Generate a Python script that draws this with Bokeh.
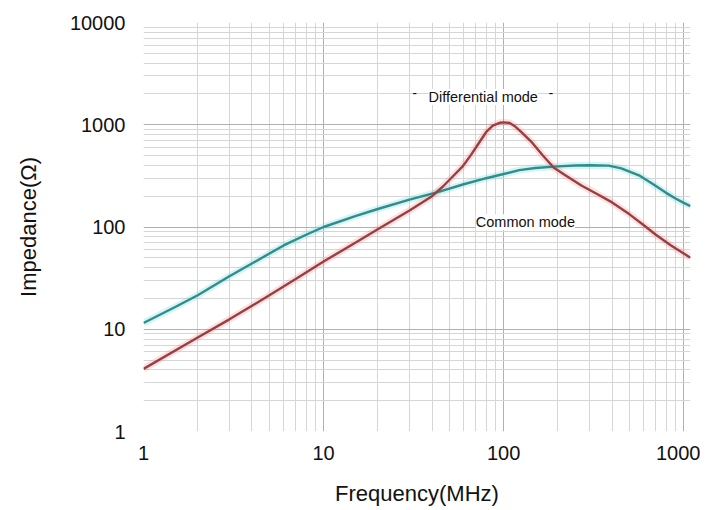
from bokeh.plotting import figure
from bokeh.models import Range1d, FixedTicker, ColumnDataSource
from bokeh.core.properties import value
from bokeh.embed import file_html
from bokeh.resources import INLINE

# ---- data ----
freq_diff = [1, 2, 3, 5, 7, 10, 15, 20, 30, 40, 46, 52, 59, 66, 73, 80, 87, 95, 100,
             108, 116, 125, 144, 165, 190, 220, 270, 330, 400, 500, 600, 700, 850, 1000, 1090]
imp_diff = [4.1, 8.3, 12.5, 21.5, 31, 46, 70, 95, 145, 200, 249, 310, 389, 510, 667, 850,
            980, 1045, 1055, 1040, 960, 850, 667, 500, 380, 320, 255, 210, 174, 133, 104,
            84, 66, 55, 50]

freq_common = [1, 1.5, 2, 3, 4, 6, 8, 10, 15, 20, 30, 44, 60, 80, 100, 122, 150, 200,
               250, 300, 383, 450, 564, 680, 794, 900, 1000, 1090]
imp_common = [11.5, 16.5, 21.5, 33, 44, 66, 84, 100, 128, 150, 185, 222, 262, 300, 330,
              360, 378, 392, 400, 402, 398, 375, 320, 260, 217, 190, 172, 160]

x_ticks = [1, 10, 100, 1000]
x_tick_labels = ["1", "10", "100", "1000"]
y_ticks = [1, 10, 100, 1000, 10000]
y_tick_labels = ["1", "10", "100", "1000", "10000"]

label_text = ["Differential mode", "-", "-", "Common mode"]
label_x = [77, 32, 183, 132]
label_y = [1864, 2037, 2037, 111]

FONT = "Liberation Sans"

p = figure(width=700, height=508, x_axis_type="log", y_axis_type="log",
           x_range=Range1d(1, 1090), y_range=Range1d(1, 10000),
           output_backend="svg", toolbar_location=None,
           min_border_left=143, min_border_right=10, min_border_top=22,
           min_border_bottom=75)
p.outline_line_color = None
p.background_fill_color = "white"

x_minor = [m * 10 ** k for k in range(0, 4) for m in range(2, 10)]
y_minor = [m * 10 ** k for k in range(0, 4) for m in range(2, 10)]
p.xaxis.ticker = FixedTicker(ticks=x_ticks, minor_ticks=x_minor)
p.yaxis.ticker = FixedTicker(ticks=y_ticks, minor_ticks=y_minor)
p.xaxis.major_label_overrides = dict(zip(x_ticks, x_tick_labels))
p.yaxis.major_label_overrides = dict(zip(y_ticks, y_tick_labels))

for ax in (p.xaxis, p.yaxis):
    ax.axis_line_color = None
    ax.major_tick_line_color = None
    ax.minor_tick_line_color = None
    ax.major_label_text_font = FONT
    ax.major_label_text_font_size = "20px"
    ax.major_label_text_color = "#111111"
    ax.axis_label_text_font = FONT
    ax.axis_label_text_font_size = "22px"
    ax.axis_label_text_font_style = "normal"
    ax.axis_label_text_color = "#111111"

p.xaxis.axis_label = "Frequency(MHz)"
p.yaxis.axis_label = "Impedance(Ω)"
p.xaxis.major_label_standoff = 8
p.yaxis.major_label_standoff = 12
p.xaxis.axis_label_standoff = 18
p.yaxis.axis_label_standoff = 26

for g in (p.xgrid, p.ygrid):
    g.grid_line_color = "#b0b0b0"
    g.grid_line_width = 1
    g.minor_grid_line_color = "#d6d6d6"
    g.minor_grid_line_width = 1

# soft halos (scan look)
p.line(freq_common, imp_common, line_color="#7fd6d6", line_width=7, line_alpha=0.3)
p.line(freq_diff, imp_diff, line_color="#ee8888", line_width=7, line_alpha=0.25)
# curves
p.line(freq_common, imp_common, line_color="#2e8e8e", line_width=2.4)
p.line(freq_diff, imp_diff, line_color="#9a3e40", line_width=2.4)

src = ColumnDataSource(dict(x=label_x, y=label_y, t=label_text))
p.text(x="x", y="y", text="t", source=src, text_font=value(FONT),
       text_font_size="14.5px", text_color="#111111", text_align="center",
       text_baseline="middle", background_fill_color="white")

open("out.html", "w").write(file_html(p, INLINE))
